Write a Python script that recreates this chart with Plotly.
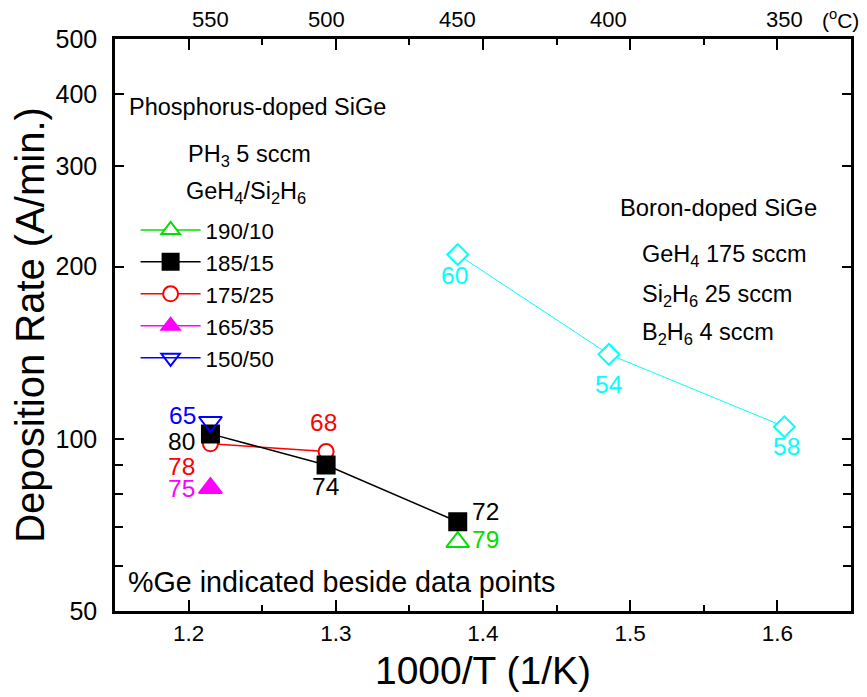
import math
import plotly.graph_objects as go

# ---------------- data ----------------
temps_c = [550, 500, 450, 400, 350]          # top-axis labels (deg C)
x_ticks = [1.2, 1.3, 1.4, 1.5, 1.6]
y_ticks = [50, 100, 200, 300, 400, 500]
y_minor = [60, 70, 80, 90]

p190_T = [450]
p190_rate = [66]
p190_ge = [79]

p185_T = [550, 500, 450]
p185_rate = [102, 90, 71.6]
p185_ge = [80, 74, 72]

p175_T = [550, 500]
p175_rate = [98, 95]
p175_ge = [78, 68]

p165_T = [550]
p165_rate = [82]
p165_ge = [75]

p150_T = [550]
p150_rate = [107]
p150_ge = [65]

b_T = [450, 400, 350]
b_rate = [210, 140.5, 105]
b_ge = [60, 54, 58]


def inv_t(temps):
    return [1000.0 / (t + 273.15) for t in temps]


FONT = "Liberation Sans, Arial, sans-serif"

# ---------------- styles ----------------
series = [
    dict(name="175/25", T=p175_T, r=p175_rate, ge=p175_ge, color="#FF0000",
         symbol="circle", fill="white", size=15, rank=3,
         off=[(-29, -23), (-3, 29)]),
    dict(name="190/10", T=p190_T, r=p190_rate, ge=p190_ge, color="#00E000",
         symbol="triangle-up", fill="white", size=20, rank=1,
         off=[(28, 3)]),
    dict(name="165/35", T=p165_T, r=p165_rate, ge=p165_ge, color="#FF00FF",
         symbol="triangle-up", fill="#FF00FF", size=20, rank=4,
         off=[(-29, 0)]),
    dict(name="185/15", T=p185_T, r=p185_rate, ge=p185_ge, color="#000000",
         symbol="square", fill="#000000", size=17, rank=2,
         off=[(-29, -8), (-1, -22), (28, 10)]),
    dict(name="150/50", T=p150_T, r=p150_rate, ge=p150_ge, color="#0000FF",
         symbol="triangle-down", fill="rgba(0,0,0,0)", size=20, rank=5,
         off=[(-28, 7)]),
]

fig = go.Figure()
annotations = []

for s in series:
    xs = inv_t(s["T"])
    fig.add_trace(go.Scatter(
        x=xs, y=s["r"], name=s["name"], mode="lines+markers",
        legendrank=s["rank"], legendgroup=s["name"],
        line=dict(color=s["color"], width=1.5),
        marker=dict(symbol=s["symbol"], size=s["size"], color=s["fill"],
                    line=dict(color=s["color"], width=2)),
    ))
    for xv, yv, g, (dx, dy) in zip(xs, s["r"], s["ge"], s["off"]):
        annotations.append(dict(x=xv, y=math.log10(yv), xref="x", yref="y",
                                text=str(g), showarrow=False,
                                xshift=dx, yshift=dy,
                                font=dict(size=24.5, color=s["color"], family=FONT)))

# boron series
bx = inv_t(b_T)
fig.add_trace(go.Scatter(
    x=bx, y=b_rate, name="Boron", mode="lines+markers", showlegend=False,
    line=dict(color="#00FFFF", width=1),
    marker=dict(symbol="diamond", size=16, color="white",
                line=dict(color="#00FFFF", width=2)),
))
for xv, yv, g, (dx, dy) in zip(bx, b_rate, b_ge, [(-3, -21), (0, -30), (2, -20)]):
    annotations.append(dict(x=xv, y=math.log10(yv), xref="x", yref="y",
                            text=str(g), showarrow=False, xshift=dx, yshift=dy,
                            font=dict(size=24.5, color="#00FFFF", family=FONT)))

# top temperature labels
for t, xv in zip(temps_c, inv_t(temps_c)):
    annotations.append(dict(x=xv, y=1, xref="x", yref="paper", text=str(t),
                            showarrow=False, yanchor="bottom", yshift=5,
                            font=dict(size=22, color="black", family=FONT)))
annotations.append(dict(x=0.958, y=1, xref="paper", yref="paper",
                        text="(<sup>o</sup>C)", showarrow=False,
                        xanchor="left", yanchor="bottom", yshift=5,
                        font=dict(size=21, color="black", family=FONT)))

# text blocks
txt = [
    ("Phosphorus-doped SiGe", 0.016, 0.881, 23.5),
    ("PH<sub>3</sub> 5 sccm", 0.096, 0.797, 23.5),
    ("GeH<sub>4</sub>/Si<sub>2</sub>H<sub>6</sub>", 0.094, 0.731, 23.5),
    ("Boron-doped SiGe", 0.683, 0.705, 23.8),
    ("GeH<sub>4</sub> 175 sccm", 0.713, 0.621, 23.5),
    ("Si<sub>2</sub>H<sub>6</sub> 25 sccm", 0.713, 0.552, 23.5),
    ("B<sub>2</sub>H<sub>6</sub> 4 sccm", 0.713, 0.485, 23.5),
    ("%Ge indicated beside data points", 0.015, 0.051, 28.7),
]
for t, xp, yp, fs in txt:
    annotations.append(dict(x=xp, y=yp, xref="paper", yref="paper", text=t,
                            showarrow=False, xanchor="left", yanchor="middle",
                            font=dict(size=fs, color="black", family=FONT)))

fig.update_layout(
    width=859, height=689,
    margin=dict(l=107, r=16, t=31, b=86),
    paper_bgcolor="white", plot_bgcolor="white",
    font=dict(family=FONT, color="black"),
    annotations=annotations,
    showlegend=True,
    legend=dict(x=0.028, y=0.703, xanchor="left", yanchor="top",
                bgcolor="rgba(0,0,0,0)", font=dict(size=22.3, family=FONT),
                itemwidth=60, tracegroupgap=0),
    xaxis=dict(range=[1.15, 1.65], tickvals=x_ticks,
               ticktext=[f"{v:.1f}" for v in x_ticks],
               ticks="inside", ticklen=11, tickwidth=2, tickcolor="black",
               minor=dict(dtick=0.05, tick0=1.15, ticks="inside", ticklen=6,
                          tickwidth=2, tickcolor="black"),
               showline=True, linewidth=2.5, linecolor="black", mirror="ticks",
               showgrid=False, zeroline=False,
               tickfont=dict(size=22.5, family=FONT),
               title=dict(text="1000/T (1/K)", font=dict(size=39, family=FONT),
                          standoff=12)),
    yaxis=dict(type="log", range=[math.log10(50), math.log10(500)],
               tickvals=y_ticks, ticktext=[str(v) for v in y_ticks],
               ticks="inside", ticklen=9, tickwidth=2, tickcolor="black",
               minor=dict(tickvals=y_minor, ticks="inside", ticklen=8,
                          tickwidth=2, tickcolor="black"),
               showline=True, linewidth=2.5, linecolor="black", mirror="ticks",
               showgrid=False, zeroline=False, ticklabelstandoff=10,
               tickfont=dict(size=25, family=FONT),
               title=dict(text="Deposition Rate (A/min.)",
                          font=dict(size=40, family=FONT), standoff=4)),
)

fig.write_html("out.html")
